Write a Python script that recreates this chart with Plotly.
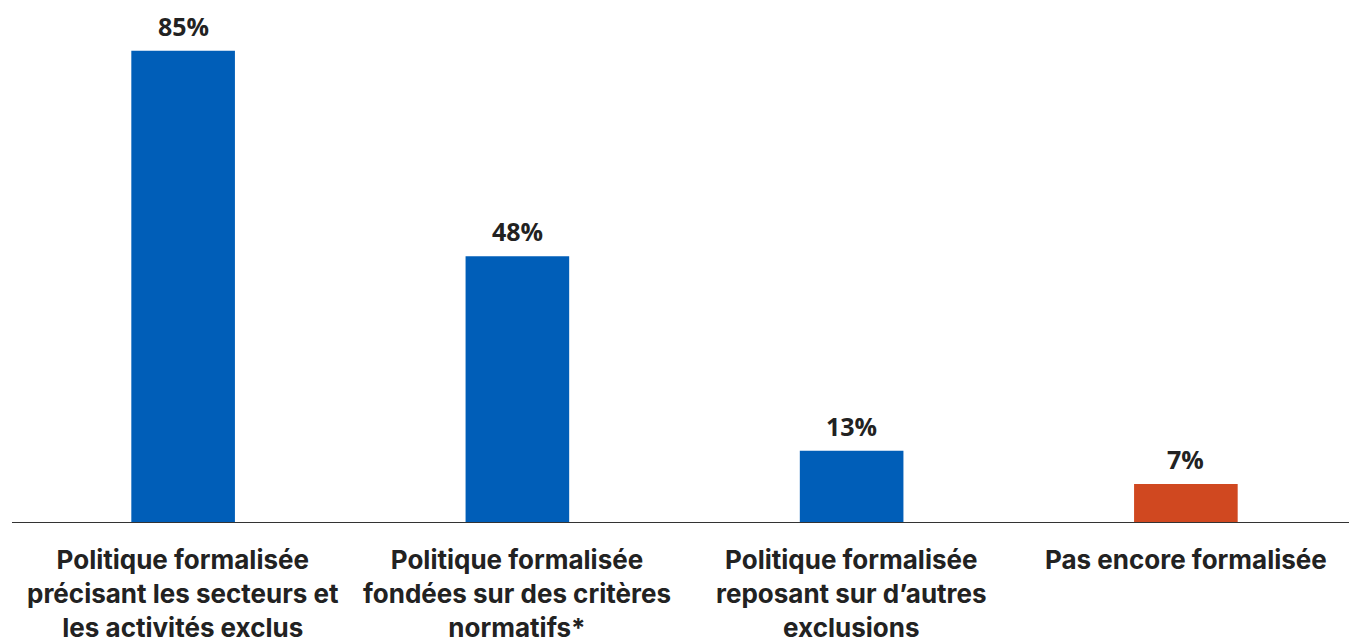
import plotly.graph_objects as go

categories = [
    "Politique formalisée<br>précisant les secteurs et<br>les activités exclus",
    "Politique formalisée<br>fondées sur des critères<br>normatifs*",
    "Politique formalisée<br>reposant sur d’autres<br>exclusions",
    "Pas encore formalisée",
]
values = [85, 48, 13, 7]
value_labels = ["85%", "48%", "13%", "7%"]
colors = ["#005EB8", "#005EB8", "#005EB8", "#D04820"]

fig = go.Figure()
fig.add_trace(go.Bar(
    x=list(range(len(categories))), y=values,
    marker=dict(color=colors, line=dict(width=0)),
    width=0.31, hoverinfo="skip",
))

annotations = []
for i, (v, t) in enumerate(zip(values, value_labels)):
    annotations.append(dict(
        x=i, y=v, xref="x", yref="y", text=t, showarrow=False,
        yanchor="bottom", yshift=7, borderpad=0,
        font=dict(family="Open Sans", size=25, color="#222222", weight="bold"),
    ))
    annotations.append(dict(
        x=i, y=0, xref="x", yref="y", text=categories[i], showarrow=False,
        yanchor="top", yshift=-19, align="center",
        font=dict(family="Inter", size=26, color="#222222", weight="bold"),
    ))

fig.update_layout(
    width=1357, height=641,
    margin=dict(l=8, r=12, t=15, b=126),
    paper_bgcolor="white", plot_bgcolor="white",
    showlegend=False,
    bargap=0.69,
    xaxis=dict(range=[-0.5, 3.5], showticklabels=False, showgrid=False, zeroline=False,
               showline=False, ticks=""),
    yaxis=dict(range=[0, 90], visible=False, showgrid=False, zeroline=False),
    shapes=[dict(type="line", xref="paper", yref="y", x0=-0.003, x1=1.0, y0=0, y1=0,
                 line=dict(color="#333333", width=2), layer="above")],
    annotations=annotations,
)

fig.write_html("out.html")
